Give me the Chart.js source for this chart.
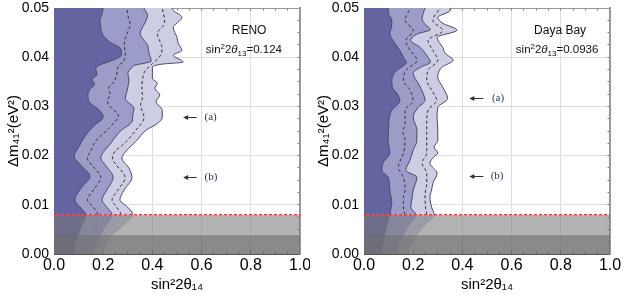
<!DOCTYPE html>
<html><head><meta charset="utf-8">
<script src="https://cdn.jsdelivr.net/npm/chart.js@4.4.0/dist/chart.umd.min.js"></script>
<style>
html,body{margin:0;padding:0;background:#fff;width:623px;height:298px;overflow:hidden}
canvas{position:absolute;top:0}
#c1{left:0}
#c2{left:310px}
</style></head><body>
<canvas id="c1" width="310" height="298"></canvas>
<canvas id="c2" width="313" height="298"></canvas>
<script>
// ---------- data ----------
const xTickLabels = ['0.0','0.2','0.4','0.6','0.8','1.0'];
const yTickLabels = ['0.00','0.01','0.02','0.03','0.04','0.05'];
const xRange = [0, 1];
const yRange = [0, 0.05];
const excludedBand = [0.004, 0.008];   // light grey band
const lowBand = [0, 0.004];            // dark grey band
const redLineY = 0.008;

// curves: [dm41^2, sin^2 2theta14]
const renoDark = [[0,0.08],[0.002,0.085],[0.004,0.1],[0.006,0.115],[0.008,0.13],[0.0093,0.11],[0.011,0.085],[0.0134,0.11],[0.0158,0.146],[0.018,0.11],[0.0199,0.082],[0.0221,0.105],[0.0241,0.128],[0.0262,0.165],[0.0278,0.2],[0.0292,0.185],[0.0312,0.14],[0.0325,0.138],[0.0337,0.15],[0.0345,0.165],[0.0355,0.155],[0.0365,0.175],[0.0375,0.17],[0.0383,0.18],[0.0392,0.23],[0.0405,0.275],[0.0418,0.27],[0.043,0.23],[0.0444,0.2],[0.046,0.19],[0.0475,0.187],[0.0488,0.195],[0.05,0.2]];
const renoDash1 = [[0,0.13],[0.002,0.14],[0.004,0.155],[0.006,0.17],[0.008,0.178],[0.0095,0.16],[0.011,0.136],[0.013,0.16],[0.0156,0.19],[0.018,0.155],[0.0195,0.135],[0.021,0.15],[0.023,0.17],[0.0256,0.224],[0.0282,0.262],[0.0296,0.235],[0.031,0.217],[0.0325,0.228],[0.0337,0.222],[0.035,0.244],[0.037,0.257],[0.0383,0.262],[0.039,0.28],[0.041,0.29],[0.0425,0.285],[0.0438,0.29],[0.0452,0.3],[0.0465,0.31],[0.0485,0.3],[0.05,0.297]];
const renoMid = [[0,0.16],[0.002,0.17],[0.004,0.19],[0.006,0.215],[0.008,0.236],[0.0095,0.215],[0.011,0.195],[0.013,0.215],[0.0156,0.24],[0.018,0.21],[0.0195,0.19],[0.021,0.205],[0.0221,0.224],[0.0235,0.245],[0.025,0.27],[0.027,0.318],[0.0282,0.32],[0.0296,0.325],[0.0316,0.29],[0.0328,0.295],[0.0339,0.3],[0.0355,0.305],[0.0367,0.3],[0.0378,0.315],[0.0384,0.33],[0.0388,0.37],[0.0392,0.395],[0.041,0.385],[0.0425,0.38],[0.0438,0.36],[0.0448,0.35],[0.047,0.37],[0.0485,0.38],[0.05,0.365]];
const renoDash2 = [[0,0.17],[0.002,0.18],[0.004,0.205],[0.006,0.24],[0.008,0.272],[0.0095,0.255],[0.011,0.236],[0.013,0.26],[0.0156,0.289],[0.018,0.255],[0.0195,0.237],[0.021,0.25],[0.0221,0.278],[0.025,0.33],[0.0278,0.366],[0.0302,0.352],[0.032,0.36],[0.0337,0.357],[0.0355,0.36],[0.0372,0.37],[0.0387,0.4],[0.0398,0.425],[0.0418,0.44],[0.0433,0.43],[0.0448,0.42],[0.047,0.45],[0.05,0.44]];
const renoLight = [[0,0.2],[0.002,0.21],[0.004,0.24],[0.006,0.285],[0.008,0.32],[0.0095,0.3],[0.011,0.268],[0.013,0.285],[0.0156,0.317],[0.0174,0.305],[0.0195,0.276],[0.021,0.295],[0.023,0.335],[0.0252,0.375],[0.0265,0.42],[0.0278,0.44],[0.0292,0.44],[0.031,0.415],[0.0323,0.43],[0.0337,0.41],[0.0347,0.42],[0.0357,0.4],[0.0367,0.4],[0.038,0.4],[0.0386,0.44],[0.039,0.525],[0.0404,0.485],[0.0414,0.52],[0.0428,0.505],[0.044,0.5],[0.046,0.485],[0.0481,0.52],[0.0495,0.485],[0.05,0.48]];

const dbDark = [[0,0.07],[0.002,0.075],[0.004,0.085],[0.006,0.095],[0.008,0.105],[0.0095,0.11],[0.0103,0.113],[0.013,0.105],[0.0156,0.098],[0.017,0.073],[0.0185,0.077],[0.0205,0.105],[0.0231,0.098],[0.0258,0.1],[0.0278,0.103],[0.0292,0.113],[0.0312,0.146],[0.0327,0.133],[0.0339,0.115],[0.0353,0.113],[0.0369,0.125],[0.039,0.172],[0.04,0.16],[0.041,0.15],[0.0428,0.126],[0.0448,0.105],[0.0462,0.112],[0.0475,0.113],[0.0488,0.1],[0.05,0.098]];
const dbDash1 = [[0,0.11],[0.002,0.12],[0.004,0.135],[0.006,0.15],[0.008,0.165],[0.0095,0.16],[0.0115,0.16],[0.013,0.167],[0.0156,0.16],[0.0176,0.14],[0.0205,0.16],[0.0231,0.167],[0.0248,0.158],[0.0266,0.167],[0.0292,0.167],[0.0312,0.2],[0.0333,0.187],[0.0353,0.16],[0.0373,0.17],[0.0394,0.215],[0.0414,0.187],[0.0434,0.17],[0.0454,0.2],[0.0475,0.167],[0.0499,0.187]];
const dbMid = [[0,0.13],[0.002,0.14],[0.004,0.16],[0.006,0.185],[0.008,0.21],[0.0095,0.19],[0.0112,0.195],[0.013,0.2],[0.0156,0.215],[0.017,0.17],[0.0191,0.187],[0.0211,0.2],[0.0231,0.215],[0.0252,0.215],[0.0278,0.2],[0.0298,0.22],[0.0312,0.248],[0.0327,0.24],[0.0347,0.22],[0.0367,0.2],[0.0379,0.228],[0.039,0.27],[0.04,0.26],[0.042,0.228],[0.0434,0.19],[0.0448,0.22],[0.0456,0.27],[0.0466,0.25],[0.0478,0.236],[0.05,0.248]];
const dbDash2 = [[0,0.15],[0.002,0.16],[0.004,0.185],[0.006,0.22],[0.008,0.255],[0.0095,0.25],[0.012,0.248],[0.0144,0.255],[0.0164,0.255],[0.0185,0.236],[0.0205,0.255],[0.0231,0.255],[0.0266,0.255],[0.0292,0.26],[0.0312,0.295],[0.0333,0.275],[0.0353,0.255],[0.0373,0.26],[0.0394,0.3],[0.0414,0.28],[0.0434,0.26],[0.0454,0.32],[0.0475,0.28],[0.05,0.31]];
const dbLight = [[0,0.18],[0.002,0.19],[0.004,0.215],[0.006,0.25],[0.008,0.285],[0.0095,0.275],[0.0116,0.268],[0.013,0.275],[0.0144,0.28],[0.0164,0.297],[0.0185,0.268],[0.0198,0.285],[0.0205,0.3],[0.0217,0.285],[0.0231,0.3],[0.0252,0.3],[0.0278,0.297],[0.0298,0.3],[0.0316,0.34],[0.0339,0.32],[0.0359,0.3],[0.0379,0.315],[0.0394,0.362],[0.0408,0.33],[0.042,0.32],[0.044,0.297],[0.0455,0.378],[0.0469,0.32],[0.0481,0.3],[0.0495,0.35],[0.05,0.35]];

// annotation texts / anchor values
const renoTitle = 'RENO';
const renoTheta13 = '0.124';
const dbTitle = 'Daya Bay';
const dbTheta13 = '0.0936';
const renoArrows = [{label:'(a)', y:0.0278, tail:0.58, head:0.525, text:0.612},{label:'(b)', y:0.0156, tail:0.58, head:0.525, text:0.612}];
const dbArrows = [{label:'(a)', y:0.0318, tail:0.485, head:0.428, text:0.52},{label:'(b)', y:0.0158, tail:0.485, head:0.428, text:0.515}];

// ---------- styles ----------
const FAM = '"Liberation Sans", Arial, sans-serif';
const C_DARK = '#6464a1', C_MID = '#9c9cc8', C_LIGHT = '#cdcde3';
const C_EDGE = '#4a4a5e';
const toPts = a => a.map(([y, x]) => ({x, y}));
const fadeSeg = col => ({ borderColor: c => (c.p1.parsed.y <= redLineY + 1e-6 ? col : undefined) });

function region(arr, color) {
  return {data: toPts(arr), fill: 'origin', backgroundColor: color, borderColor: C_EDGE, borderWidth: 1,
    pointRadius: 0, cubicInterpolationMode: 'monotone', segment: fadeSeg('rgba(70,70,80,0.22)')};
}
function dashed(arr) {
  return {data: toPts(arr), fill: false, borderColor: '#2e2e3a', borderWidth: 1, borderDash: [3, 2.5],
    pointRadius: 0, cubicInterpolationMode: 'monotone', segment: fadeSeg('rgba(60,60,70,0.18)')};
}
function band(b, color) {
  return {data: [{x: xRange[1], y: b[0]}, {x: xRange[1], y: b[1]}], fill: 'origin', backgroundColor: color,
    borderColor: 'rgba(0,0,0,0)', borderWidth: 0, pointRadius: 0, tension: 0};
}

function rich(ctx, parts, cx, base, size) {
  const f = p => `${p.it ? 'italic ' : ''}${(p.sub || p.sup) ? Math.round(size * 0.72) : size}px ${FAM}`;
  let w = 0;
  for (const p of parts) { ctx.font = f(p); w += ctx.measureText(p.t).width; }
  let x = cx - w / 2;
  ctx.textAlign = 'left'; ctx.textBaseline = 'alphabetic';
  for (const p of parts) {
    ctx.font = f(p);
    const dy = p.sup ? -size * 0.4 : p.sub ? size * 0.25 : 0;
    ctx.fillText(p.t, x, base + dy);
    x += ctx.measureText(p.t).width;
  }
}

const annotPlugin = {
  id: 'annot',
  afterDatasetsDraw(chart) {
    const o = chart.options.plugins.annot;
    const {ctx} = chart; const xs = chart.scales.x, ys = chart.scales.y;
    ctx.save();
    ctx.fillStyle = '#111';
    rich(ctx, [{t: o.title}], xs.getPixelForValue(o.tx), ys.getPixelForValue(0.0456) + 4.5, 12);
    rich(ctx, [{t: 'sin'}, {t: '2', sup: true}, {t: '2'}, {t: 'θ', it: true}, {t: '13', sub: true}, {t: '=' + o.th}],
      xs.getPixelForValue(o.fx), ys.getPixelForValue(0.0416) + 4, 11.5);
    for (const a of o.arrows) {
      const y = Math.round(ys.getPixelForValue(a.y)) + 0.5;
      const x1 = xs.getPixelForValue(a.tail), x2 = xs.getPixelForValue(a.head);
      ctx.strokeStyle = '#333'; ctx.lineWidth = 1; ctx.fillStyle = '#333';
      ctx.beginPath(); ctx.moveTo(x1, y); ctx.lineTo(x2 + 2, y); ctx.stroke();
      ctx.beginPath(); ctx.moveTo(x2, y); ctx.lineTo(x2 + 5, y - 2.5); ctx.lineTo(x2 + 5, y + 2.5); ctx.closePath(); ctx.fill();
      ctx.fillStyle = '#2b3566';
      ctx.font = `11px "Liberation Serif", "DejaVu Serif", serif`;
      ctx.textAlign = 'left'; ctx.textBaseline = 'middle';
      ctx.fillText(a.label, xs.getPixelForValue(a.text), y);
    }
    ctx.restore();
  }
};

const noPadX = h => s => { s.height = h; s.paddingLeft = 0; s.paddingRight = 0; };
const noPadY = w => s => { s.width = w; s.paddingTop = 0; s.paddingBottom = 0; };

function makeChart(id, curves, annot, padRight) {
  const [dk, d1, md, d2, lt] = curves;
  return new Chart(document.getElementById(id), {
    type: 'line',
    data: {datasets: [
      band(lowBand, 'rgba(112,112,112,0.82)'),
      band(excludedBand, 'rgba(118,118,118,0.56)'),
      {data: [{x: xRange[0], y: redLineY}, {x: xRange[1], y: redLineY}], fill: false, borderColor: '#e8363a',
        borderWidth: 1.2, borderDash: [3, 2], pointRadius: 0, tension: 0},
      dashed(d1), dashed(d2),
      region(dk, C_DARK), region(md, C_MID), region(lt, C_LIGHT)
    ]},
    options: {
      indexAxis: 'y', responsive: false, animation: false, events: [],
      layout: {padding: {top: 8, right: padRight, left: 0, bottom: 0}, autoPadding: false},
      plugins: {legend: {display: false}, tooltip: {enabled: false}, annot: annot},
      scales: {
        x: {type: 'linear', position: 'bottom', min: xRange[0], max: xRange[1], weight: 0,
          ticks: {stepSize: 0.2, padding: 6, color: '#000', font: {size: 16, family: FAM},
            callback: (v, i) => xTickLabels[Math.round(v / 0.2)] ?? ''},
          grid: {color: '#dedede', lineWidth: 1, drawTicks: true, tickLength: -4, tickColor: '#333'},
          border: {color: '#555', width: 1},
          title: {display: true, text: 'sin²2θ₁₄', color: '#000', font: {size: 15, family: FAM}, padding: {top: 0, bottom: 4}},
          afterFit: noPadX(44)},
        y: {type: 'linear', position: 'left', min: yRange[0], max: yRange[1], weight: 0,
          ticks: {stepSize: 0.01, padding: 9, color: '#000', font: {size: 14, family: FAM},
            callback: (v, i) => yTickLabels[Math.round(v / 0.01)] ?? ''},
          grid: {color: '#dedede', lineWidth: 1, drawTicks: true, tickLength: -4, tickColor: '#333'},
          border: {color: '#555', width: 1},
          title: {display: true, text: 'Δm₄₁²(eV²)', color: '#000', font: {size: 15, family: FAM}, padding: {top: 5, bottom: 0}},
          afterFit: noPadY(54)},
        xm: {type: 'linear', position: 'bottom', min: xRange[0], max: xRange[1], weight: -1,
          ticks: {display: false, stepSize: 0.05, maxTicksLimit: 100, autoSkip: false},
          grid: {drawOnChartArea: false, drawTicks: true, tickLength: -2.5, tickColor: '#555'},
          border: {display: false}, afterFit: noPadX(0)},
        ym: {type: 'linear', position: 'left', min: yRange[0], max: yRange[1], weight: -1,
          ticks: {display: false, stepSize: 0.0025, maxTicksLimit: 100, autoSkip: false},
          grid: {drawOnChartArea: false, drawTicks: true, tickLength: -2.5, tickColor: '#555'},
          border: {display: false}, afterFit: noPadY(0)},
        xt: {type: 'linear', position: 'top', min: xRange[0], max: xRange[1],
          ticks: {display: false, stepSize: 0.05, maxTicksLimit: 100, autoSkip: false},
          grid: {drawOnChartArea: false, drawTicks: true, tickLength: -2.5, tickColor: '#777'},
          border: {color: '#999', width: 1}, afterFit: noPadX(0)},
        yr: {type: 'linear', position: 'right', min: yRange[0], max: yRange[1],
          ticks: {display: false, stepSize: 0.0025, maxTicksLimit: 100, autoSkip: false},
          grid: {drawOnChartArea: false, drawTicks: true, tickLength: -2.5, tickColor: '#777'},
          border: {color: '#999', width: 2}, afterFit: noPadY(0)}
      }
    },
    plugins: [annotPlugin]
  });
}

makeChart('c1', [renoDark, renoDash1, renoMid, renoDash2, renoLight],
  {title: renoTitle, th: renoTheta13, tx: 0.793, fx: 0.772, arrows: renoArrows}, 10);
makeChart('c2', [dbDark, dbDash1, dbMid, dbDash2, dbLight],
  {title: dbTitle, th: dbTheta13, tx: 0.797, fx: 0.785, arrows: dbArrows}, 13);
</script>
</body></html>
